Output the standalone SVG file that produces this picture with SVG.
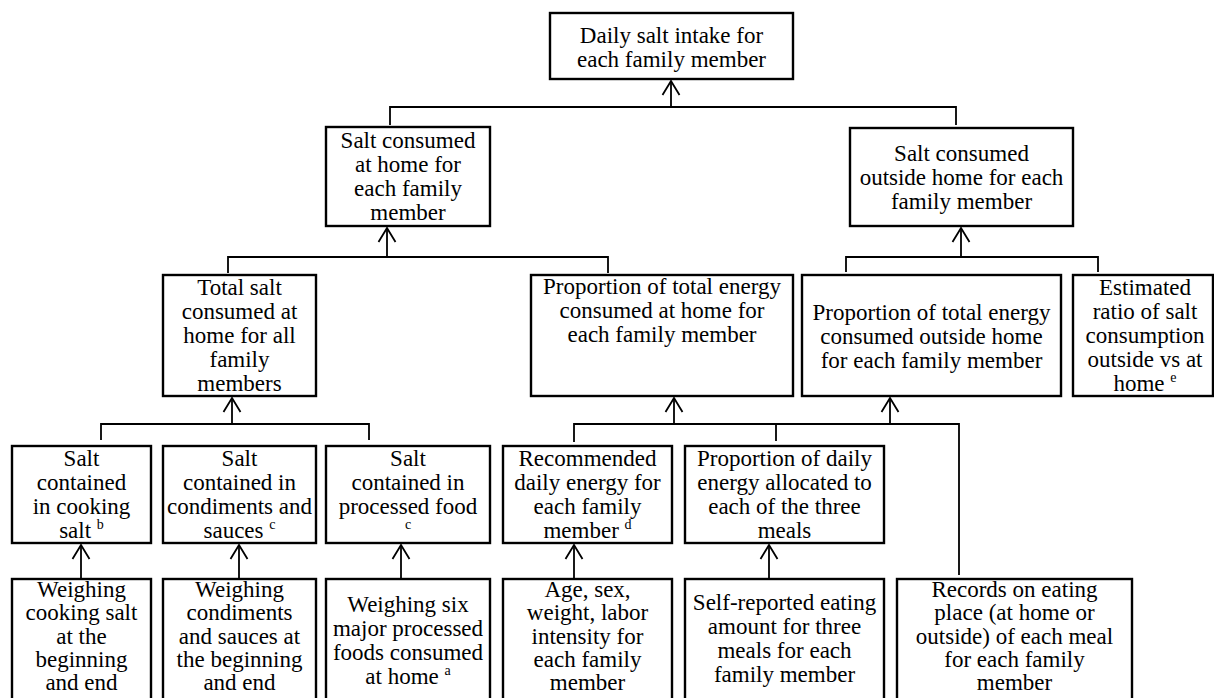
<svg xmlns="http://www.w3.org/2000/svg" width="1214" height="698" viewBox="0 0 1214 698">
<style>
.box{fill:#fff;stroke:#000;stroke-width:2.4}
.t{font-family:"Liberation Serif","Times New Roman",serif;font-size:23px;text-anchor:middle;fill:#000}
.sup{font-size:14px}
.c{fill:none;stroke:#000;stroke-width:1.8}
.a{fill:none;stroke:#000;stroke-width:1.8;marker-end:url(#arr)}
</style>
<defs>
<marker id="arr" markerUnits="userSpaceOnUse" viewBox="-16 -10 18 20" markerWidth="18" markerHeight="20" refX="0" refY="0" orient="auto">
<path d="M-14,-8.5 L0,0 L-14,8.5" fill="none" stroke="#000" stroke-width="1.8"/>
</marker>
</defs>
<rect width="1214" height="698" fill="#fff"/>
<g id="connectors">
<path class="c" d="M390,125 V107 H956 V125"/>
<path class="a" d="M671,107 V81"/>
<path class="c" d="M228,273 V257 H608 V273"/>
<path class="a" d="M387,257 V228"/>
<path class="c" d="M846,272 V257 H1098 V272"/>
<path class="a" d="M961,257 V228"/>
<path class="c" d="M101,440 V424 H369 V440"/>
<path class="a" d="M232,424 V398"/>
<path class="c" d="M574,442 V424 H959 V575"/>
<path class="c" d="M776,424 V441"/>
<path class="a" d="M674,424 V398"/>
<path class="a" d="M890,424 V398"/>
<path class="a" d="M81,579 V545"/>
<path class="a" d="M239,579 V545"/>
<path class="a" d="M401,579 V545"/>
<path class="a" d="M574,579 V545"/>
<path class="a" d="M769,579 V545"/>
</g>
<g id="n-daily"><rect class="box" x="550" y="13" width="243" height="66"/>
<text class="t" x="671.5"><tspan x="671.5" y="43">Daily salt intake for</tspan><tspan x="671.5" y="67">each family member</tspan></text></g>
<g id="n-home"><rect class="box" x="326" y="127" width="164" height="99"/>
<text class="t"><tspan x="408" y="148">Salt consumed</tspan><tspan x="408" y="172">at home for</tspan><tspan x="408" y="196">each family</tspan><tspan x="408" y="220">member</tspan></text></g>
<g id="n-outside"><rect class="box" x="850" y="128" width="223" height="98"/>
<text class="t"><tspan x="961.5" y="161">Salt consumed</tspan><tspan x="961.5" y="185">outside home for each</tspan><tspan x="961.5" y="209">family member</tspan></text></g>
<g id="n-total"><rect class="box" x="163" y="275" width="153" height="121"/>
<text class="t"><tspan x="239.5" y="295">Total salt</tspan><tspan x="239.5" y="319">consumed at</tspan><tspan x="239.5" y="343">home for all</tspan><tspan x="239.5" y="367">family</tspan><tspan x="239.5" y="391">members</tspan></text></g>
<g id="n-prophome"><rect class="box" x="531" y="275" width="262" height="121"/>
<text class="t"><tspan x="662" y="294">Proportion of total energy</tspan><tspan x="662" y="318">consumed at home for</tspan><tspan x="662" y="342">each family member</tspan></text></g>
<g id="n-propout"><rect class="box" x="802" y="275" width="259" height="121"/>
<text class="t"><tspan x="931.5" y="320">Proportion of total energy</tspan><tspan x="931.5" y="344">consumed outside home</tspan><tspan x="931.5" y="368">for each family member</tspan></text></g>
<g id="n-ratio"><rect class="box" x="1073" y="275" width="140" height="121"/>
<text class="t"><tspan x="1145" y="295">Estimated</tspan><tspan x="1145" y="319">ratio of salt</tspan><tspan x="1145" y="343">consumption</tspan><tspan x="1145" y="367">outside vs at</tspan><tspan x="1145" y="391">home <tspan class="sup" dy="-9">e</tspan></tspan></text></g>
<g id="n-cooking"><rect class="box" x="12" y="446" width="139" height="97"/>
<text class="t"><tspan x="81.5" y="466">Salt</tspan><tspan x="81.5" y="490">contained</tspan><tspan x="81.5" y="514">in cooking</tspan><tspan x="81.5" y="538">salt <tspan class="sup" dy="-9">b</tspan></tspan></text></g>
<g id="n-condiments"><rect class="box" x="163" y="446" width="153" height="97"/>
<text class="t"><tspan x="239.5" y="466">Salt</tspan><tspan x="239.5" y="490">contained in</tspan><tspan x="239.5" y="514">condiments and</tspan><tspan x="239.5" y="538">sauces <tspan class="sup" dy="-9">c</tspan></tspan></text></g>
<g id="n-processed"><rect class="box" x="326" y="446" width="164" height="97"/>
<text class="t"><tspan x="408" y="466">Salt</tspan><tspan x="408" y="490">contained in</tspan><tspan x="408" y="514">processed food</tspan></text>
<text class="t sup" x="408" y="529">c</text></g>
<g id="n-recommended"><rect class="box" x="503" y="446" width="169" height="97"/>
<text class="t"><tspan x="587.5" y="466">Recommended</tspan><tspan x="587.5" y="490">daily energy for</tspan><tspan x="587.5" y="514">each family</tspan><tspan x="587.5" y="538">member <tspan class="sup" dy="-9">d</tspan></tspan></text></g>
<g id="n-meals"><rect class="box" x="685" y="446" width="199" height="97"/>
<text class="t"><tspan x="784.5" y="466">Proportion of daily</tspan><tspan x="784.5" y="490">energy allocated to</tspan><tspan x="784.5" y="514">each of the three</tspan><tspan x="784.5" y="538">meals</tspan></text></g>
<g id="n-wcook"><rect class="box" x="12" y="579" width="139" height="126"/>
<text class="t"><tspan x="81.5" y="597">Weighing</tspan><tspan x="81.5" y="620">cooking salt</tspan><tspan x="81.5" y="644">at the</tspan><tspan x="81.5" y="667">beginning</tspan><tspan x="81.5" y="690">and end</tspan></text></g>
<g id="n-wcond"><rect class="box" x="163" y="579" width="153" height="126"/>
<text class="t"><tspan x="239.5" y="597">Weighing</tspan><tspan x="239.5" y="620">condiments</tspan><tspan x="239.5" y="644">and sauces at</tspan><tspan x="239.5" y="667">the beginning</tspan><tspan x="239.5" y="690">and end</tspan></text></g>
<g id="n-wproc"><rect class="box" x="326" y="579" width="164" height="126"/>
<text class="t"><tspan x="408" y="612">Weighing six</tspan><tspan x="408" y="636">major processed</tspan><tspan x="408" y="660">foods consumed</tspan><tspan x="408" y="684">at home <tspan class="sup" dy="-9">a</tspan></tspan></text></g>
<g id="n-age"><rect class="box" x="503" y="579" width="169" height="126"/>
<text class="t"><tspan x="587.5" y="597">Age, sex,</tspan><tspan x="587.5" y="620">weight, labor</tspan><tspan x="587.5" y="644">intensity for</tspan><tspan x="587.5" y="667">each family</tspan><tspan x="587.5" y="690">member</tspan></text></g>
<g id="n-selfreport"><rect class="box" x="685" y="579" width="199" height="126"/>
<text class="t"><tspan x="784.5" y="610">Self-reported eating</tspan><tspan x="784.5" y="634">amount for three</tspan><tspan x="784.5" y="658">meals for each</tspan><tspan x="784.5" y="682">family member</tspan></text></g>
<g id="n-records"><rect class="box" x="897" y="579" width="235" height="126"/>
<text class="t"><tspan x="1014.5" y="597">Records on eating</tspan><tspan x="1014.5" y="620">place (at home or</tspan><tspan x="1014.5" y="644">outside) of each meal</tspan><tspan x="1014.5" y="667">for each family</tspan><tspan x="1014.5" y="690">member</tspan></text></g>
</svg>
